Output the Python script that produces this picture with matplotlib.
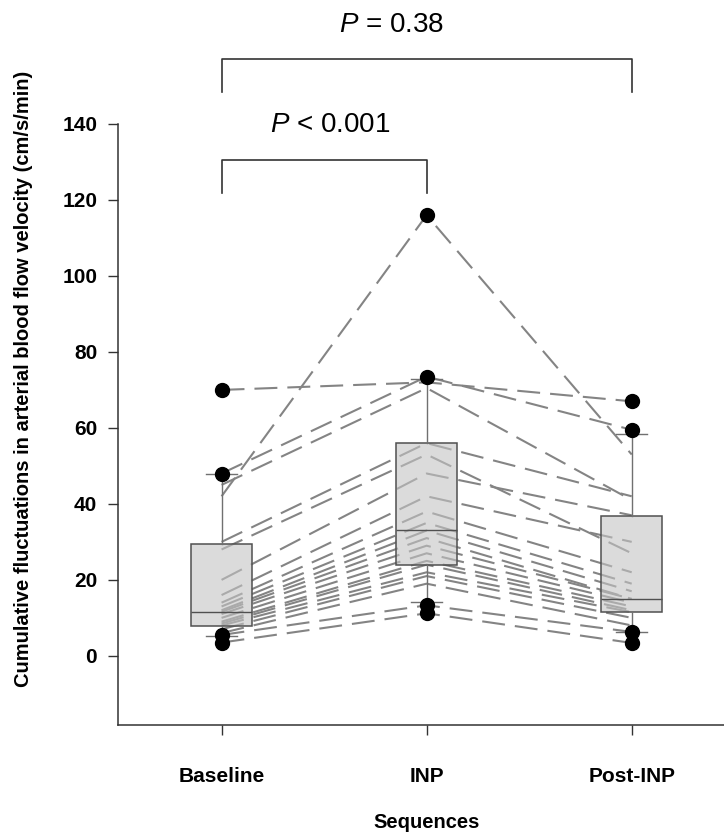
import matplotlib
matplotlib.use("Agg")
import matplotlib.pyplot as plt
import numpy as np

plt.rcParams['font.family'] = ['Liberation Sans', 'DejaVu Sans']
plt.rcParams['mathtext.fontset'] = 'custom'
plt.rcParams['mathtext.rm'] = 'Liberation Sans'
plt.rcParams['mathtext.it'] = 'Liberation Sans:italic'

# ---- data ----
categories = ["Baseline", "INP", "Post-INP"]
baseline = [42, 70, 48, 45, 30, 28, 20, 16, 14, 13, 12, 11.6, 11, 10, 9, 8.5, 8, 7, 6, 5.5, 3.5]
inp      = [116, 72, 73.5, 70.5, 56, 53, 48, 42, 38, 35, 33, 31, 29, 27, 25, 24, 22, 21, 19, 13.3, 11.2]
post     = [53, 67, 59.5, 41, 42, 27, 37, 30, 22, 19, 17, 15, 15, 14, 13, 12, 11.5, 10, 8, 6.3, 3.4]

box_q1 = [7.9, 24.0, 11.6]
box_med = [11.6, 33.0, 15.0]
box_q3 = [29.5, 56.0, 36.8]
whisk_lo = [5.3, 14.2, 6.3]
whisk_hi = [48.0, 73.0, 58.4]
outliers = [[70, 48, 5.5, 3.5], [116, 73.5, 13.3, 11.2], [67, 59.5, 6.3, 3.4]]

yticks = [0, 20, 40, 60, 80, 100, 120, 140]
p_labels = ["$P$ = 0.38", "$P$ < 0.001"]

# ---- figure ----
fig = plt.figure(figsize=(7.24, 8.39), dpi=100)
ax = fig.add_axes([118/724, 1-725/839, 1-118/724, (725-124)/839])
pos = np.arange(1, len(categories)+1)

# subject lines
for b, i, p in zip(baseline, inp, post):
    ax.plot(pos, [b, i, p], color='#848484', lw=1.5,
            linestyle=(0, (11, 4.8)), zorder=2)

# boxes
stats = []
for k in range(len(categories)):
    stats.append(dict(q1=box_q1[k], med=box_med[k], q3=box_q3[k],
                      whislo=whisk_lo[k], whishi=whisk_hi[k], fliers=[]))
ax.bxp(stats, positions=pos, widths=0.3, capwidths=0.15, patch_artist=True,
       showfliers=False, manage_ticks=False,
       boxprops=dict(facecolor=(0.77, 0.77, 0.77, 0.6), edgecolor='#505050', lw=1.1),
       medianprops=dict(color='#505050', lw=1.0),
       whiskerprops=dict(color='#707070', lw=1.0),
       capprops=dict(color='#707070', lw=1.0), zorder=3)

# outlier points
for k, vals in enumerate(outliers):
    ax.plot([pos[k]]*len(vals), vals, 'o', color='black', ms=10, zorder=5,
            clip_on=False)

ax.set_xlim(0.495, 3.45)
ax.set_ylim(-18.2, 140)
ax.set_yticks(yticks)
ax.set_xticks(pos)
ax.set_xticklabels(categories)
for lab in ax.get_xticklabels() + ax.get_yticklabels():
    lab.set_fontweight('bold')
    lab.set_fontsize(15)
ax.spines['top'].set_visible(False)
ax.spines['right'].set_visible(False)
for s in ['left', 'bottom']:
    ax.spines[s].set_color('#333333')
    ax.spines[s].set_linewidth(1.1)
ax.tick_params(axis='y', length=7, width=1, color='#333333', pad=8)
ax.tick_params(axis='x', length=7, width=1, color='#333333', pad=23)

# significance brackets
ax.plot([1, 1, 3, 3], [148.4, 157.1, 157.1, 148.4], color='#333333', lw=1.2, clip_on=False)
ax.plot([1, 1, 2, 2], [121.8, 130.5, 130.5, 121.8], color='#333333', lw=1.2, clip_on=False)
ax.text(1.83, 166, p_labels[0], fontsize=20, ha='center', va='center', clip_on=False)
ax.text(1.53, 139.7, p_labels[1], fontsize=20, ha='center', va='center', clip_on=False)

fig.text(24/724, 1-379/839,
         "Cumulative fluctuations in arterial blood flow velocity (cm/s/min)",
         rotation=90, ha='center', va='center', fontsize=14.5, fontweight='bold')
fig.text(427/724, 1-822/839, "Sequences", ha='center', va='center',
         fontsize=14.5, fontweight='bold')

fig.savefig("out.png", dpi=100)
